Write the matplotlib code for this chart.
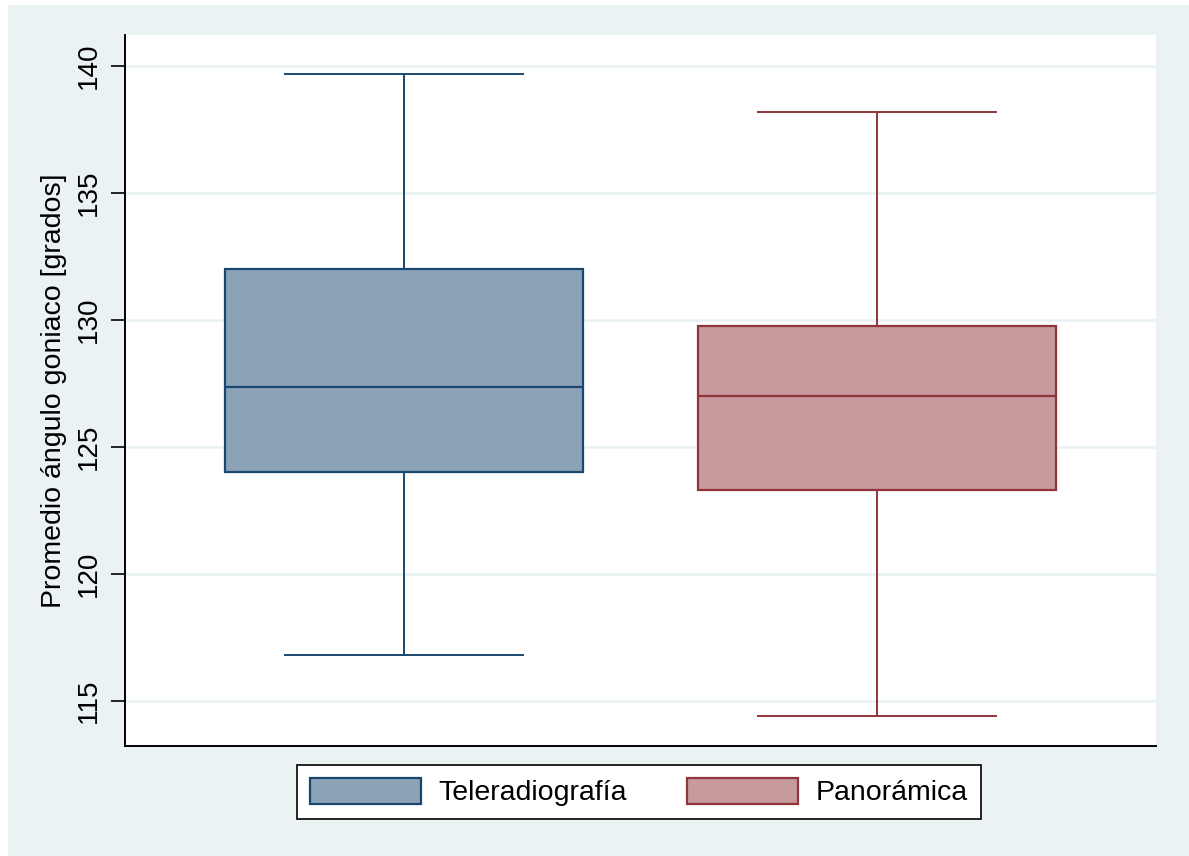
import matplotlib
matplotlib.use("Agg")
import matplotlib.pyplot as plt
from matplotlib.patches import Patch, Rectangle

plt.rcParams['font.family'] = ['Liberation Sans', 'DejaVu Sans']

# five-number summaries per method
groups = ['Teleradiografía', 'Panorámica']
whislo = [116.8, 114.4]
q1 = [124.0, 123.3]
med = [127.35, 127.0]
q3 = [132.0, 129.75]
whishi = [139.7, 138.2]
yticks = [115, 120, 125, 130, 135, 140]

edge_colors = ['#1a476f', '#90353b']
fill_colors = ['#8ca3b7', '#c79a9d']
bg = '#eaf2f3'

fig = plt.figure(figsize=(11.89, 8.56), dpi=100)
fig.patch.set_facecolor('white')
fig.add_artist(Rectangle((8 / 1189, 0), 1, 1 - 5 / 856, transform=fig.transFigure,
                         facecolor=bg, edgecolor='none', zorder=-10))

ax = fig.add_axes([125 / 1189, 110 / 856, 1031 / 1189, 711 / 856])
ax.set_facecolor('white')

stats = []
for i in range(len(groups)):
    stats.append(dict(label=groups[i], whislo=whislo[i], q1=q1[i], med=med[i],
                      q3=q3[i], whishi=whishi[i], fliers=[]))

for i, s in enumerate(stats):
    ec = edge_colors[i]
    ax.bxp([s], positions=[i + 1], widths=0.755, patch_artist=True,
           showfliers=False, manage_ticks=False,
           boxprops=dict(facecolor=fill_colors[i], edgecolor=ec, linewidth=1.6),
           medianprops=dict(color=ec, linewidth=1.6),
           whiskerprops=dict(color=ec, linewidth=1.4),
           capprops=dict(color=ec, linewidth=1.4),
           capwidths=0.503)

ax.set_xlim(0.41, 2.59)
ax.set_ylim(113.23, 141.22)
ax.set_xticks([])
ax.set_yticks(yticks)
ax.set_yticklabels([str(t) for t in yticks], rotation=90, va='center', fontsize=20)
ax.tick_params(axis='y', length=10, width=1.2, pad=7)
ax.yaxis.grid(True, color=bg, linewidth=2)
ax.set_axisbelow(True)
for side in ['top', 'right']:
    ax.spines[side].set_visible(False)
for side in ['left', 'bottom']:
    ax.spines[side].set_linewidth(1.4)
ax.set_ylabel('Promedio ángulo goniaco [grados]', fontsize=20.5, labelpad=6)

handles = [Patch(facecolor=fill_colors[i], edgecolor=edge_colors[i], linewidth=1.6)
           for i in range(len(groups))]
leg = fig.legend(handles, groups, ncol=2, loc='center',
                 bbox_to_anchor=(639 / 1189, 1 - 792 / 856), fontsize=20.5,
                 frameon=True, fancybox=False, edgecolor='black', framealpha=1,
                 handlelength=3.9, handleheight=1.05, handletextpad=0.63,
                 columnspacing=2.1, borderpad=0.45)
leg.get_frame().set_linewidth(1.2)

fig.savefig('out.png', dpi=100, facecolor=fig.get_facecolor())
